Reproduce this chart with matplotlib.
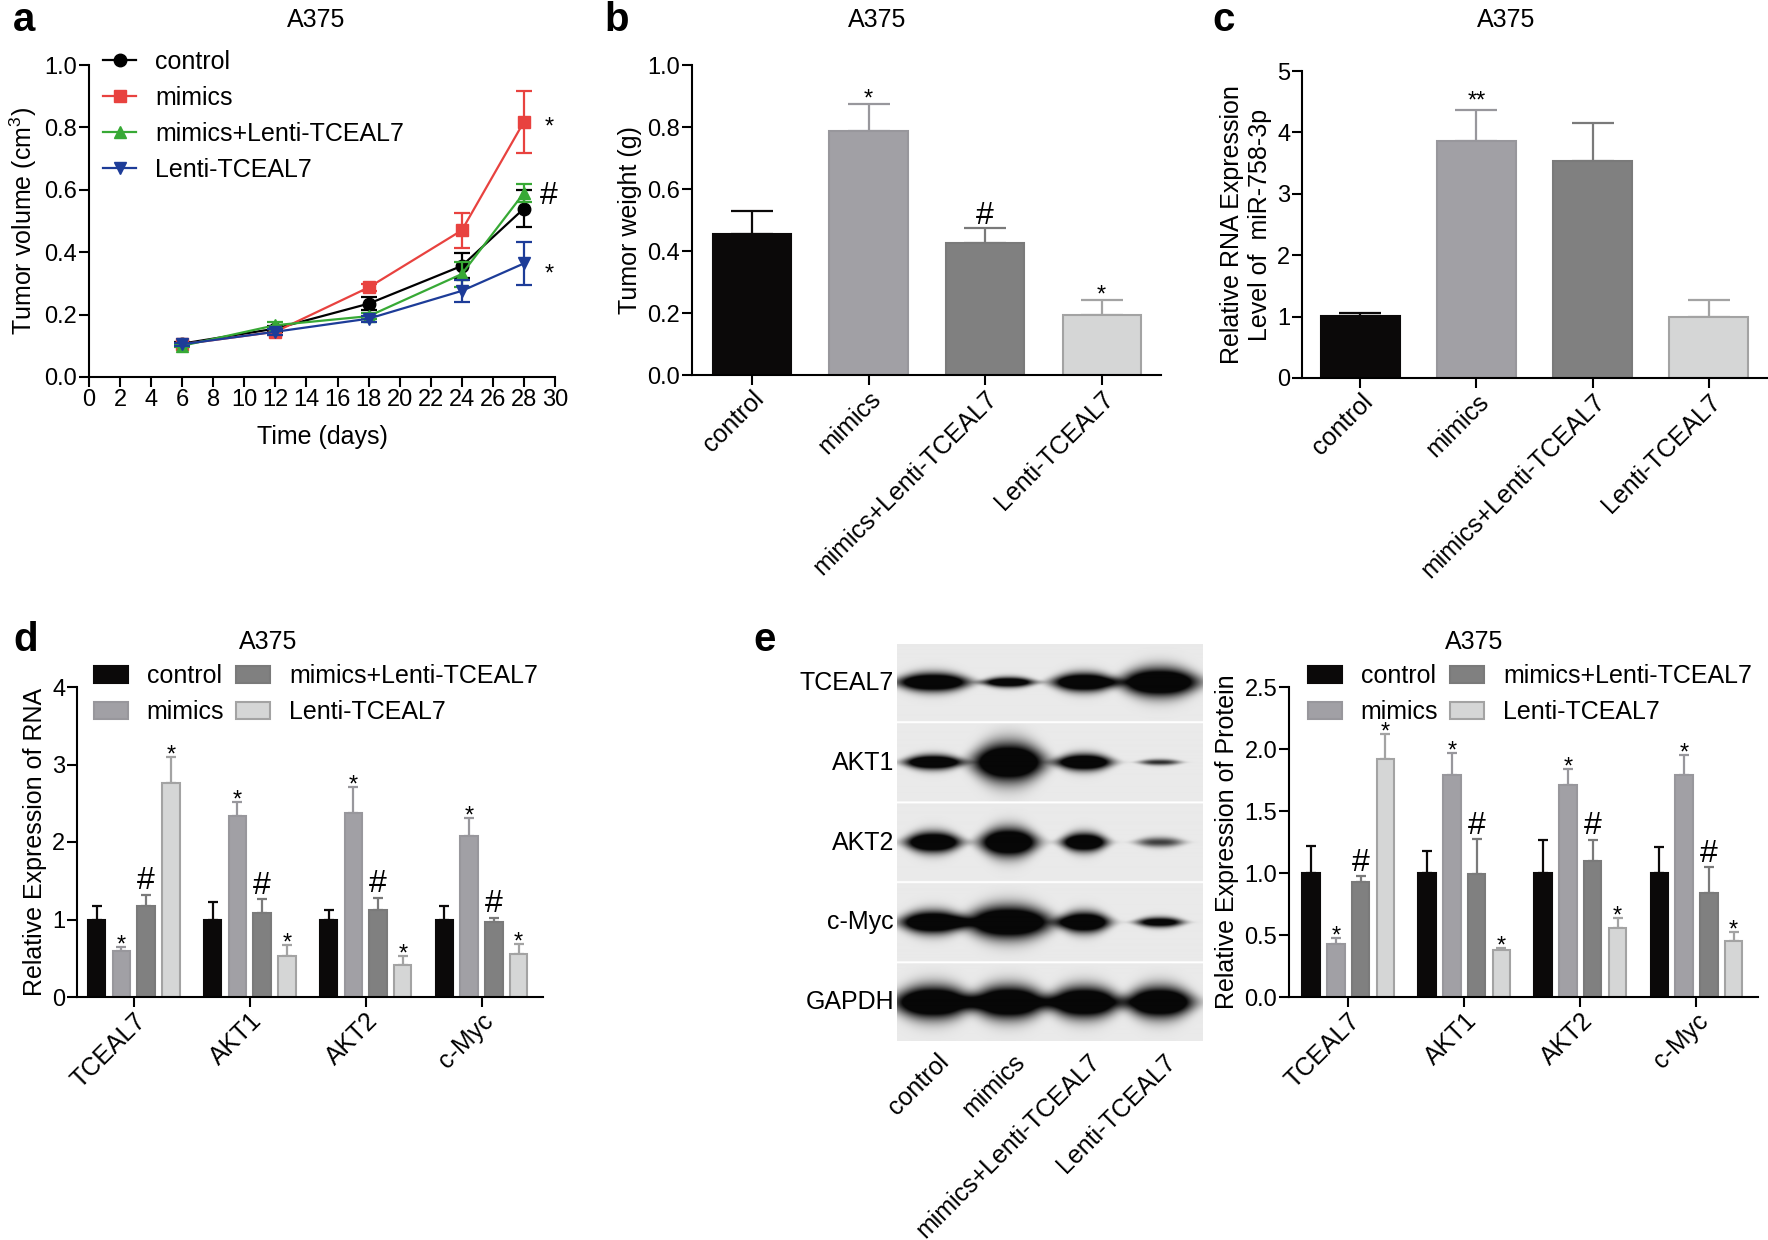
import numpy as np
import matplotlib
matplotlib.use("Agg")
import matplotlib.pyplot as plt

plt.rcParams['font.family'] = ['Liberation Sans', 'DejaVu Sans']
plt.rcParams['mathtext.fontset'] = 'custom'
plt.rcParams['mathtext.rm'] = 'Liberation Sans'
plt.rcParams['mathtext.it'] = 'Liberation Sans:italic'

W, H = 1768, 1240

# ---------------- data ----------------
groups = ['control', 'mimics', 'mimics+Lenti-TCEAL7', 'Lenti-TCEAL7']
genes = ['TCEAL7', 'AKT1', 'AKT2', 'c-Myc']

# a: tumour volume
days = [6, 12, 18, 24, 28]
vol_control = [0.107, 0.155, 0.235, 0.356, 0.540]
vol_mimics = [0.105, 0.145, 0.287, 0.470, 0.818]
vol_mimics_lenti = [0.100, 0.166, 0.195, 0.330, 0.590]
vol_lenti = [0.105, 0.145, 0.187, 0.276, 0.364]
sd_control = [0.005, 0.010, 0.020, 0.040, 0.060]
sd_mimics = [0.005, 0.010, 0.010, 0.057, 0.100]
sd_mimics_lenti = [0.005, 0.010, 0.010, 0.040, 0.030]
sd_lenti = [0.005, 0.010, 0.010, 0.035, 0.070]
vol_marks = ['*', '#', '*']
vol_mark_y = [0.824, 0.590, 0.353]

# b: tumour weight
weight = [0.454, 0.788, 0.425, 0.195]
weight_top = [0.528, 0.874, 0.473, 0.241]
weight_marks = ['', '*', '#', '*']

# c: miR-758-3p
mir = [1.01, 3.86, 3.53, 0.99]
mir_top = [1.06, 4.36, 4.15, 1.27]
mir_marks = ['', '**', '', '']

# d: RNA, rows = genes, columns = groups
rna = np.array([[1.00, 0.59, 1.17, 2.76],
                [1.00, 2.34, 1.09, 0.525],
                [1.00, 2.38, 1.12, 0.41],
                [1.00, 2.08, 0.97, 0.55]])
rna_top = np.array([[1.17, 0.645, 1.32, 3.10],
                    [1.23, 2.52, 1.26, 0.667],
                    [1.12, 2.71, 1.28, 0.53],
                    [1.18, 2.31, 1.02, 0.68]])
group_marks = ['', '*', '#', '*']

# e: protein, rows = genes, columns = groups
prot = np.array([[1.00, 0.43, 0.93, 1.92],
                 [1.00, 1.79, 0.995, 0.376],
                 [1.00, 1.71, 1.10, 0.554],
                 [1.00, 1.79, 0.84, 0.454]])
prot_top = np.array([[1.215, 0.478, 0.973, 2.12],
                     [1.18, 1.97, 1.274, 0.395],
                     [1.266, 1.836, 1.27, 0.637],
                     [1.21, 1.95, 1.048, 0.524]])

# e: western blot band size (half width, half thickness) and density
blot_rows = ['TCEAL7', 'AKT1', 'AKT2', 'c-Myc', 'GAPDH']
band_w = [[35, 25, 31, 38], [28, 35, 27, 20], [27, 28, 22, 23],
          [32, 42, 25, 23], [38, 37, 35, 33]]
band_h = [[8.9, 4.9, 8.9, 13.8], [6.9, 18.8, 7.9, 3.0], [9.9, 13.8, 8.9, 4.9],
          [10.9, 15.8, 9.9, 4.9], [15.8, 15.8, 15.0, 15.0]]
band_dens = [[1, 0.9, 1, 1], [1, 1, 1, 0.5], [1, 1, 1, 0.45],
             [1, 1, 1, 0.8], [1, 1, 1, 1]]

# ---------------- style ----------------
bar_face = ['#0b0909', '#a1a0a5', '#808080', '#d5d6d6']
bar_edge = ['#0b0909', '#98979c', '#7a7a7a', '#a3a3a3']
line_col = ['black', '#e8423f', '#37a935', '#1d3c98']
line_mk = ['o', 's', '^', 'v']
TICK = 17
LAB = 18


def box(l, t, r, b):
    return [l / W, 1 - b / H, (r - l) / W, (b - t) / H]


def style(ax):
    for s in ['top', 'right']:
        ax.spines[s].set_visible(False)
    for s in ['left', 'bottom']:
        ax.spines[s].set_linewidth(1.5)
    ax.tick_params(direction='out', length=7, width=1.5, labelsize=TICK, pad=1.5)


def mark(ax, x, y, s, gap_px):
    fs = 17 if '*' in s else 23
    mid = 0.58 if '*' in s else 0.36
    ax.annotate(s, (x, y), xytext=(0, gap_px * 0.72 - mid * fs), textcoords='offset points',
                ha='center', va='baseline', fontsize=fs, annotation_clip=False)


def bars(ax, x, vals, tops, width, capsize):
    for i in range(len(vals)):
        ax.errorbar(x[i], vals[i], yerr=[[0], [tops[i] - vals[i]]], fmt='none',
                    ecolor=bar_edge[i], elinewidth=1.6, capsize=capsize, capthick=1.6, zorder=1)
    return [ax.bar(x[i], vals[i], width, color=bar_face[i], edgecolor=bar_edge[i],
                   linewidth=1.5, zorder=2, label=groups[i]) for i in range(len(vals))]


def legend(ax, handles, xy, **kw):
    ax.legend(handles=handles, loc='upper left', bbox_to_anchor=xy, bbox_transform=fig.transFigure,
              frameon=False, fontsize=LAB, handletextpad=0.76, labelspacing=0.48,
              borderpad=0, borderaxespad=0, **kw)


fig = plt.figure(figsize=(W / 100, H / 100), dpi=100)

# panel letters and titles
for s, x, y in [('a', 13, 20), ('b', 604, 20), ('c', 1212, 20), ('d', 13, 640), ('e', 753, 640)]:
    fig.text(x / W, 1 - y / H, s, fontsize=29, fontweight='bold', ha='left', va='center')
for x, y in [(316, 20), (877, 20), (1506, 20), (268, 642), (1474, 642)]:
    fig.text(x / W, 1 - y / H, 'A375', fontsize=LAB, ha='center', va='center')

# ---- a ----
ax = fig.add_axes(box(89, 65, 555, 377))
style(ax)
handles = []
for vals, sd, c, m, name in zip([vol_control, vol_mimics, vol_mimics_lenti, vol_lenti],
                                 [sd_control, sd_mimics, sd_mimics_lenti, sd_lenti],
                                 line_col, line_mk, groups):
    ax.errorbar(days, vals, yerr=sd, fmt='none', ecolor=c, elinewidth=1.6, capsize=6, capthick=1.6)
    h, = ax.plot(days, vals, color=c, marker=m, markersize=9, linewidth=1.6, label=name)
    handles.append(h)
for s, y in zip(vol_marks, vol_mark_y):
    mark(ax, 29.6, y, s, 0)
ax.set_xlim(0, 30)
ax.set_ylim(0, 1.0)
ax.set_xticks(range(0, 31, 2))
ax.set_yticks(np.arange(0, 1.01, 0.2))
ax.set_yticklabels(['%.1f' % v for v in np.arange(0, 1.01, 0.2)])
ax.set_xlabel('Time (days)', fontsize=LAB, labelpad=10)
ax.set_ylabel(r'Tumor volume (cm$^{3}$)', fontsize=LAB, labelpad=4)
legend(ax, handles, (103 / W, 1 - 50 / H), handlelength=1.32)

# ---- b ----
ax = fig.add_axes(box(692, 65, 1161, 375))
style(ax)
x = np.arange(4)
bars(ax, x, weight, weight_top, 0.67, 15)
for i, s in enumerate(weight_marks):
    if s:
        mark(ax, x[i], weight_top[i], s, 12 if s == '*' else 16)
ax.set_xlim(-0.515, 3.51)
ax.set_ylim(0, 1.0)
ax.set_yticks(np.arange(0, 1.01, 0.2))
ax.set_yticklabels(['%.1f' % v for v in np.arange(0, 1.01, 0.2)])
ax.set_xticks(x)
ax.set_xticklabels(groups, rotation=45, ha='right', rotation_mode='anchor', fontsize=LAB)
ax.set_ylabel('Tumor weight (g)', fontsize=LAB)

# ---- c ----
ax = fig.add_axes(box(1302, 71, 1768, 378))
style(ax)
bars(ax, x, mir, mir_top, 0.68, 15)
for i, s in enumerate(mir_marks):
    if s:
        mark(ax, x[i], mir_top[i], s, 16)
ax.set_xlim(-0.5, 3.51)
ax.set_ylim(0, 5)
ax.set_yticks(range(6))
ax.set_xticks(x)
ax.set_xticklabels(groups, rotation=45, ha='right', rotation_mode='anchor', fontsize=LAB)
ax.set_ylabel('Relative RNA Expression\nLevel of  miR-758-3p', fontsize=LAB, multialignment='center')

# ---- d and e grouped bars ----
offs = (np.arange(4) - 1.5) * 0.2135


def grouped(ax, vals, tops, ylim, yticks, fmt, leg_xy):
    style(ax)
    gx = np.arange(len(genes))
    conts = None
    for g in range(len(genes)):
        c = bars(ax, gx[g] + offs, vals[g], tops[g], 0.15, 3.7)
        conts = conts or c
        for i, s in enumerate(group_marks):
            if s:
                mark(ax, gx[g] + offs[i], tops[g][i], s, 9 if s == '*' else 17)
    ax.set_xticks(gx)
    ax.set_xticklabels(genes, rotation=45, ha='right', rotation_mode='anchor', fontsize=LAB)
    ax.set_ylim(*ylim)
    ax.set_yticks(yticks)
    ax.set_yticklabels([fmt % v for v in yticks])
    legend(ax, conts, leg_xy, ncol=2, handlelength=1.35, handleheight=0.7, columnspacing=0.48)


ax = fig.add_axes(box(77, 687, 543, 997))
grouped(ax, rna, rna_top, (0, 4), np.arange(0, 5), '%d', (94 / W, 1 - 664 / H))
ax.set_xlim(-0.49, 3.53)
ax.set_ylabel('Relative Expression of RNA', fontsize=LAB)

ax = fig.add_axes(box(1289, 687, 1758, 997))
grouped(ax, prot, prot_top, (0, 2.5), np.arange(0, 2.51, 0.5), '%.1f', (1308 / W, 1 - 664 / H))
ax.set_xlim(-0.51, 3.53)
ax.set_ylabel('Relative Expression of Protein', fontsize=LAB)

# ---- e western blot ----
bl, bt, br, bb = 897, 644, 1203, 1041
bw, bh = br - bl, bb - bt
gap = 2
strip = (bh - gap * (len(blot_rows) - 1)) / len(blot_rows)
sup = 2
yy, xx = np.mgrid[0:bh * sup, 0:bw * sup] / sup
img = np.ones_like(xx)
lane_x = 36 + np.arange(4) * 75.5
for r in range(len(blot_rows)):
    y0 = r * (strip + gap)
    inside = (yy >= y0) & (yy < y0 + strip)
    img[inside] = 0.915
    yc = y0 + strip * 0.5
    dark = np.zeros_like(xx)
    for l in range(4):
        dx = (xx - lane_x[l]) / band_w[r][l]
        hh = band_h[r][l] * np.clip(1 - 0.35 * dx ** 2, 0.25, 1)
        dark += band_dens[r][l] * np.exp(-np.abs(dx) ** 3) * np.exp(-((yy - yc) / hh) ** 2)
    dark = np.clip(1.7 * dark, 0, 1) * inside
    img = img - dark * (img - 0.03)
bax = fig.add_axes(box(bl, bt, br, bb))
bax.imshow(img, cmap='gray', vmin=0, vmax=1, extent=(0, bw, bh, 0), aspect='auto',
           interpolation='bilinear')
bax.axis('off')
for r, name in enumerate(blot_rows):
    yc = bt + r * (strip + gap) + strip * 0.5
    fig.text(894 / W, 1 - yc / H, name, fontsize=LAB, ha='right', va='center')
for l, name in enumerate(groups):
    fig.text((bl + lane_x[l] + 4) / W, 1 - (bb + 9) / H, name, fontsize=LAB, rotation=45,
             ha='right', va='top', rotation_mode='anchor')

fig.savefig('out.png', dpi=100)
